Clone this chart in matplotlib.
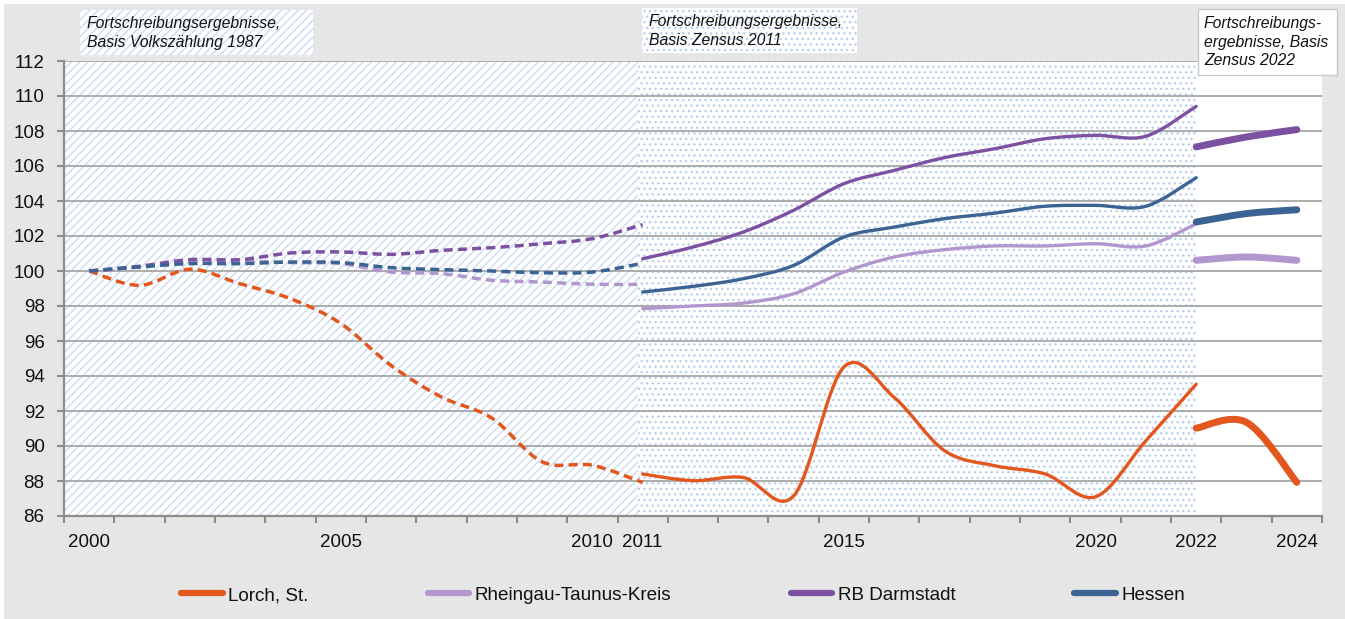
import matplotlib
matplotlib.use('Agg')
import matplotlib.pyplot as plt
from matplotlib.path import Path
from matplotlib.patches import PathPatch, Rectangle
from matplotlib.lines import Line2D
import numpy as np

plt.rcParams['font.family'] = ['Liberation Sans', 'DejaVu Sans']
plt.rcParams['hatch.linewidth'] = 0.9

# ---------------- data ----------------
categories = list(range(2000, 2025))
tick_years = [2000, 2005, 2010, 2011, 2015, 2020, 2022, 2024]

series_names = ["Lorch, St.", "Rheingau-Taunus-Kreis", "RB Darmstadt", "Hessen"]

years_1987 = list(range(2000, 2012))
years_2011 = list(range(2011, 2023))
years_2022 = [2022, 2023, 2024]

lorch_1987 = [100.0, 99.18, 100.1, 99.27, 98.42, 97.0, 94.6, 92.8, 91.6, 89.1, 88.9, 87.92]
rtk_1987 = [100.0, 100.23, 100.57, 100.57, 100.48, 100.42, 99.94, 99.85, 99.47, 99.37, 99.24, 99.24]
rb_1987 = [100.0, 100.27, 100.65, 100.65, 101.03, 101.09, 100.95, 101.18, 101.33, 101.56, 101.85, 102.65]
hessen_1987 = [100.0, 100.23, 100.42, 100.42, 100.51, 100.48, 100.19, 100.08, 100.0, 99.9, 99.94, 100.44]

lorch_2011 = [88.4, 88.02, 88.2, 87.15, 94.52, 92.77, 89.73, 88.87, 88.4, 87.1, 90.3, 93.53]
rtk_2011 = [97.85, 98.0, 98.17, 98.7, 99.94, 100.8, 101.22, 101.43, 101.43, 101.56, 101.43, 102.7]
rb_2011 = [100.7, 101.37, 102.23, 103.47, 104.99, 105.75, 106.48, 106.99, 107.56, 107.75, 107.7, 109.41]
hessen_2011 = [98.8, 99.12, 99.56, 100.32, 101.94, 102.51, 102.99, 103.31, 103.7, 103.75, 103.7, 105.33]

lorch_2022 = [91.02, 91.35, 87.92]
rtk_2022 = [100.61, 100.8, 100.61]
rb_2022 = [107.09, 107.66, 108.08]
hessen_2022 = [102.8, 103.28, 103.5]

colors = ["#E2571E", "#B197CD", "#7C51A1", "#3B6494"]

box_texts = ["Fortschreibungsergebnisse,\nBasis Volkszählung 1987",
             "Fortschreibungsergebnisse,\nBasis Zensus 2011",
             "Fortschreibungs-\nergebnisse, Basis\nZensus 2022"]

# ---------------- helpers ----------------
W, H = 1345, 619


def smooth_path(xs, ys):
    pts = np.column_stack([xs, ys]).astype(float)
    n = len(pts)
    verts = [pts[0]]
    codes = [Path.MOVETO]
    for i in range(n - 1):
        p0 = pts[i - 1] if i > 0 else pts[i]
        p1 = pts[i]
        p2 = pts[i + 1]
        p3 = pts[i + 2] if i + 2 < n else pts[i + 1]
        c1 = p1 + (p2 - p0) / 6.0
        c2 = p2 - (p3 - p1) / 6.0
        verts += [c1, c2, p2]
        codes += [Path.CURVE4] * 3
    return Path(verts, codes)


def xpos(years):
    return [categories.index(y) for y in years]


# ---------------- figure ----------------
fig = plt.figure(figsize=(W / 100, H / 100), dpi=100, facecolor='#E6E6E6')
fig.add_artist(Rectangle((0, 1 - 4 / H), 1, 4 / H, transform=fig.transFigure,
                         facecolor='white', edgecolor='none', zorder=-5))
fig.add_artist(Rectangle((0, 0), 4 / W, 1, transform=fig.transFigure,
                         facecolor='white', edgecolor='none', zorder=-5))

ax = fig.add_axes([64 / W, 103 / H, 1258 / W, 455 / H])
ax.set_facecolor('white')
ax.set_xlim(-0.5, len(categories) - 0.5)
ax.set_ylim(86, 112)

hatch_c = '#C6D8EF'
dot_c = '#B5CCEA'
ax.axvspan(-0.5, 10.9, facecolor='white', edgecolor=hatch_c, hatch='////', lw=0, zorder=0.2)
ax.axvspan(10.9, 22.0, facecolor='white', edgecolor=dot_c, hatch='...', lw=0, zorder=0.2)

grid_c = '#A0A0A0'
spine_c = '#8C8C8C'
ax.set_axisbelow(True)
ax.grid(axis='y', color=grid_c, lw=1.2)
ax.grid(axis='x', visible=False)
for s in ['top', 'right']:
    ax.spines[s].set_visible(False)
for s in ['left', 'bottom']:
    ax.spines[s].set_color(spine_c)
    ax.spines[s].set_linewidth(1.6)

ax.set_yticks(np.arange(86, 113, 2))
ax.set_xticks(xpos(tick_years))
ax.set_xticklabels([str(y) for y in tick_years])
ax.set_xticks(np.arange(-0.5, len(categories), 1), minor=True)
ax.tick_params(axis='x', which='major', length=0, pad=13, labelsize=13.5, labelcolor='#111111')
ax.tick_params(axis='x', which='minor', length=5, width=1.5, color=spine_c)
ax.tick_params(axis='y', length=5, width=1.5, color=spine_c, pad=9, labelsize=13.5,
               labelcolor='#111111')

groups = [
    (years_1987, [lorch_1987, rtk_1987, rb_1987, hessen_1987], 2.5, (0, (2.6, 1.5)), 'butt'),
    (years_2011, [lorch_2011, rtk_2011, rb_2011, hessen_2011], 2.4, '-', 'round'),
    (years_2022, [lorch_2022, rtk_2022, rb_2022, hessen_2022], 5.0, '-', 'round'),
]
# draw order: RTK, Hessen, RB, Lorch on top
order = [1, 3, 2, 0]
for years, vals, lw, ls, cap in groups:
    for k in order:
        p = smooth_path(xpos(years), vals[k])
        patch = PathPatch(p, facecolor='none', edgecolor=colors[k], lw=lw,
                          linestyle=ls, capstyle=cap, joinstyle='round', zorder=3 + k * 0.01)
        ax.add_patch(patch)

# ---------------- text boxes ----------------
def fx(px):
    return px / W


def fy(py):
    return 1 - py / H


fig.add_artist(Rectangle((fx(80), fy(55)), 233 / W, 45 / H, transform=fig.transFigure,
                         facecolor='white', edgecolor=hatch_c, hatch='////', lw=0, zorder=4))
fig.add_artist(Rectangle((fx(642), fy(53)), 215 / W, 45 / H, transform=fig.transFigure,
                         facecolor='white', edgecolor=dot_c, hatch='...', lw=0, zorder=4))
fig.add_artist(Rectangle((fx(1198), fy(75)), 139 / W, 66 / H, transform=fig.transFigure,
                         facecolor='white', edgecolor='#C8C8C8', lw=1.0, zorder=4))

for (x0, yc), txt in zip([(87, 33), (649, 31), (1204, 42)], box_texts):
    fig.text(fx(x0), fy(yc), txt, fontsize=11.3, style='italic', color='#111111',
             va='center', ha='left', linespacing=1.28, zorder=5)

# ---------------- legend ----------------
handles = [Line2D([], [], color=c, lw=4.5, solid_capstyle='round') for c in colors]
fig.legend(handles, series_names, loc='center', bbox_to_anchor=(0.508, 0.038), ncol=4,
           frameon=False, fontsize=13.6, handlelength=2.2, handletextpad=0.3,
           columnspacing=6.3, labelcolor='#111111')

fig.savefig('out.png', dpi=100, facecolor=fig.get_facecolor())
